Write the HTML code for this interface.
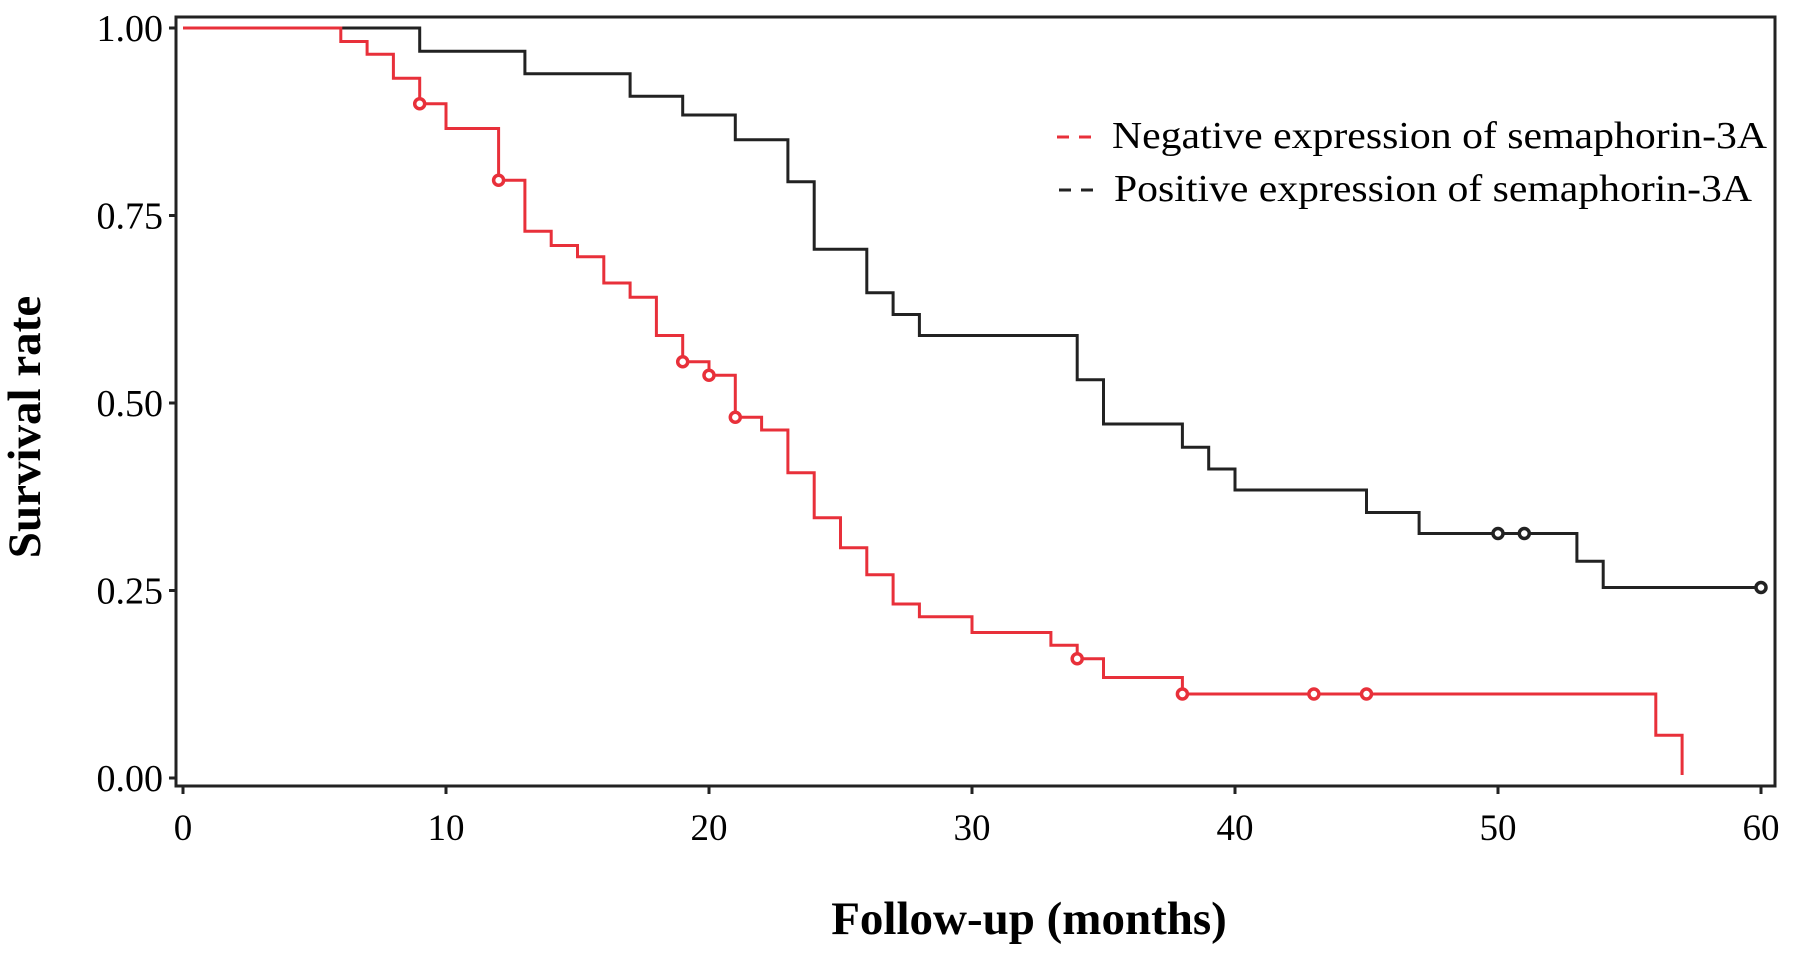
<!DOCTYPE html>
<html><head><meta charset="utf-8"><style>
html,body{margin:0;padding:0;background:#fff;}
svg{display:block;font-family:"Liberation Serif",serif;}
</style></head><body>
<svg id="chart" width="1795" height="954" viewBox="0 0 1795 954">
<rect x="176" y="17" width="1599" height="769" fill="none" stroke="#222" stroke-width="3"/>
<g id="yaxis"></g>
<g id="xaxis"></g>
<g id="series"></g>
<text x="29" y="427" transform="rotate(-90 29 427)" text-anchor="middle" dominant-baseline="middle" font-size="47" font-weight="bold">Survival rate</text>
<text x="1029" y="934" text-anchor="middle" font-size="47" font-weight="bold">Follow-up (months)</text>
<g>
<g>
<line x1="1057" y1="137" x2="1098" y2="137" stroke="#e8303a" stroke-width="3" stroke-dasharray="12,10"/>
<text x="1112" y="148" font-size="38" textLength="655" lengthAdjust="spacingAndGlyphs">Negative expression of  semaphorin-3A</text>
</g>
<g>
<line x1="1059" y1="190" x2="1100" y2="190" stroke="#222" stroke-width="3" stroke-dasharray="12,10"/>
<text x="1114" y="201" font-size="38" textLength="638" lengthAdjust="spacingAndGlyphs">Positive expression of  semaphorin-3A</text>
</g>
</g>
</svg>
<script>
const xTicks = [0,10,20,30,40,50,60];
const yTicks = [0,0.25,0.5,0.75,1];
const yTickLabels = ["0.00","0.25","0.50","0.75","1.00"];
const posTimes = [0,9,13,17,19,21,23,24,26,27,28,34,35,38,39,40,45,47,53,54,60];
const posSurv  = [1,0.969,0.939,0.909,0.884,0.851,0.795,0.705,0.647,0.618,0.590,0.531,0.472,0.441,0.412,0.384,0.354,0.326,0.289,0.254,0.254];
const posCensorTimes = [50,51,60];
const negTimes = [0,6,7,8,9,10,12,13,14,15,16,17,18,19,20,21,22,23,24,25,26,27,28,30,33,34,35,38,56,57];
const negSurv  = [1,0.982,0.965,0.933,0.899,0.866,0.797,0.729,0.710,0.695,0.660,0.641,0.590,0.555,0.537,0.481,0.464,0.407,0.347,0.307,0.271,0.232,0.215,0.194,0.177,0.159,0.134,0.112,0.057,0.004];
const negCensorTimes = [9,12,19,20,21,34,38,43,45];

const NS="http://www.w3.org/2000/svg";
const X = t => 183 + t*26.3;
const Y = s => 778 - s*750;
function mk(tag, attrs, parent){const e=document.createElementNS(NS,tag);for(const k in attrs)e.setAttribute(k,attrs[k]);parent.appendChild(e);return e;}
const ya=document.getElementById('yaxis'), xa=document.getElementById('xaxis'), sr=document.getElementById('series');
yTicks.forEach((v,i)=>{
  const l=mk('line',{x1:169,x2:176,y1:Y(v),y2:Y(v),stroke:'#222','stroke-width':3},ya);
  
  
  const t=mk('text',{x:163,y:Y(v)+13,'text-anchor':'end','font-size':38},ya);
  t.textContent=yTickLabels[i];
  
  
});
xTicks.forEach(v=>{
  const l=mk('line',{x1:X(v),x2:X(v),y1:786,y2:794,stroke:'#222','stroke-width':3},xa);
  
  
  const t=mk('text',{x:X(v),y:840,'text-anchor':'middle','font-size':37},xa);
  t.textContent=String(v);
  
  
});
function survAt(times,surv,t){let s=surv[0];for(let i=0;i<times.length;i++){if(times[i]<=t)s=surv[i];}return s;}
function drawCurve(times,surv,censors,color,name){
  let d='M'+X(times[0])+','+Y(surv[0]);
  for(let i=1;i<times.length;i++){d+=' H'+X(times[i])+' V'+Y(surv[i]);}
  const p=mk('path',{d:d,fill:'none',stroke:color,'stroke-width':3},sr);
  
  
  censors.forEach(c=>{
    const m=mk('circle',{cx:X(c),cy:Y(survAt(times,surv,c)),r:5,fill:'#fff',stroke:color,'stroke-width':3.5},sr);
    
    
  });
}
drawCurve(posTimes,posSurv,posCensorTimes,'#222','positive');
drawCurve(negTimes,negSurv,negCensorTimes,'#e8303a','negative');
</script>
</body></html>
